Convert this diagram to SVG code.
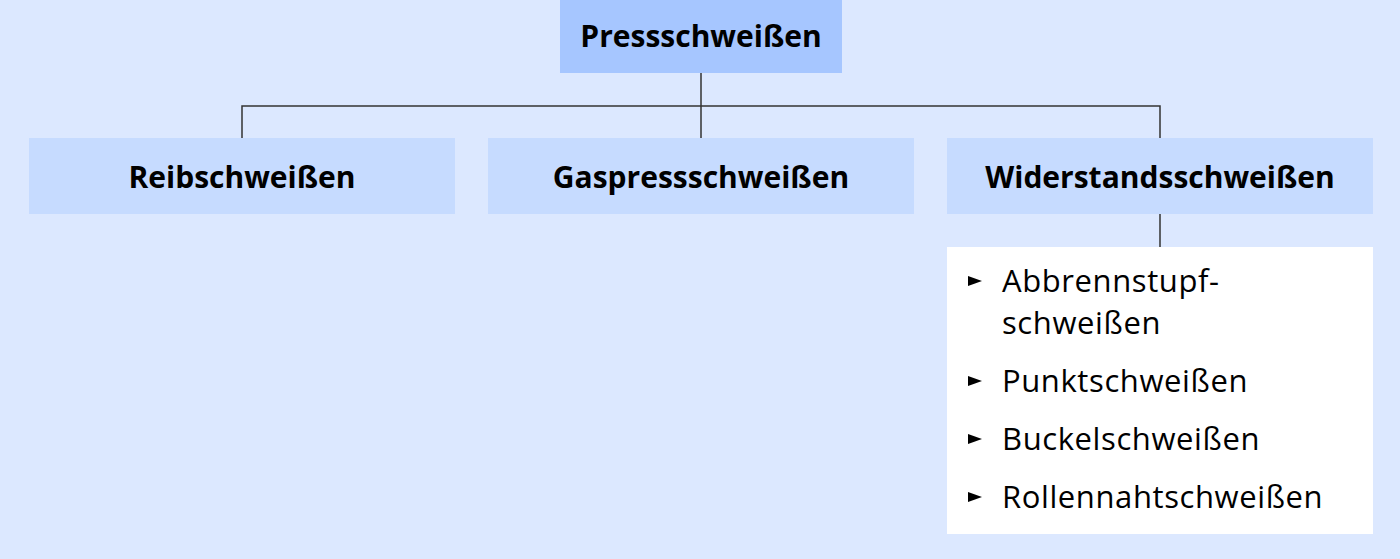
<svg xmlns="http://www.w3.org/2000/svg" width="1400" height="559" viewBox="0 0 1400 559">
<style>
.bg{fill:#dce8ff}
.top{fill:#a6c6ff}
.mid{fill:#c6dbff}
.list{fill:#ffffff}
.b{font-family:"Open Sans","Liberation Sans",sans-serif;font-weight:bold;font-size:30px;fill:#000;text-anchor:middle}
.r{font-family:"Open Sans","Liberation Sans",sans-serif;font-size:31px;letter-spacing:0.6px;fill:#000}
.c{stroke:#333;stroke-width:1.5;fill:none}
</style>
<defs>
<path id="bul" d="M0,-5 L14,0 L0,5 Z" fill="#000"/>
</defs>
<rect class="bg" x="0" y="0" width="1400" height="559"/>
<g id="connectors">
<path class="c" d="M701,73 V138 M242,138 V106 H1160 V138 M1160,214 V247"/>
</g>
<g id="n-pressschweissen">
<rect class="top" x="560" y="0" width="282" height="73"/>
<text class="b" x="701" y="47">Pressschweißen</text>
</g>
<g id="n-reibschweissen">
<rect class="mid" x="29" y="138" width="426" height="76"/>
<text class="b" x="242" y="188">Reibschweißen</text>
</g>
<g id="n-gaspressschweissen">
<rect class="mid" x="488" y="138" width="426" height="76"/>
<text class="b" x="701" y="188">Gaspressschweißen</text>
</g>
<g id="n-widerstandsschweissen">
<rect class="mid" x="947" y="138" width="426" height="76"/>
<text class="b" x="1160" y="188">Widerstandsschweißen</text>
</g>
<g id="n-list">
<rect class="list" x="947" y="247" width="426" height="287"/>
<use href="#bul" x="968" y="281"/>
<text class="r" x="1002" y="292">Abbrennstupf-</text>
<text class="r" x="1002" y="334">schweißen</text>
<use href="#bul" x="968" y="381"/>
<text class="r" x="1002" y="392">Punktschweißen</text>
<use href="#bul" x="968" y="439"/>
<text class="r" x="1002" y="450">Buckelschweißen</text>
<use href="#bul" x="968" y="497"/>
<text class="r" x="1002" y="508">Rollennahtschweißen</text>
</g>
</svg>
